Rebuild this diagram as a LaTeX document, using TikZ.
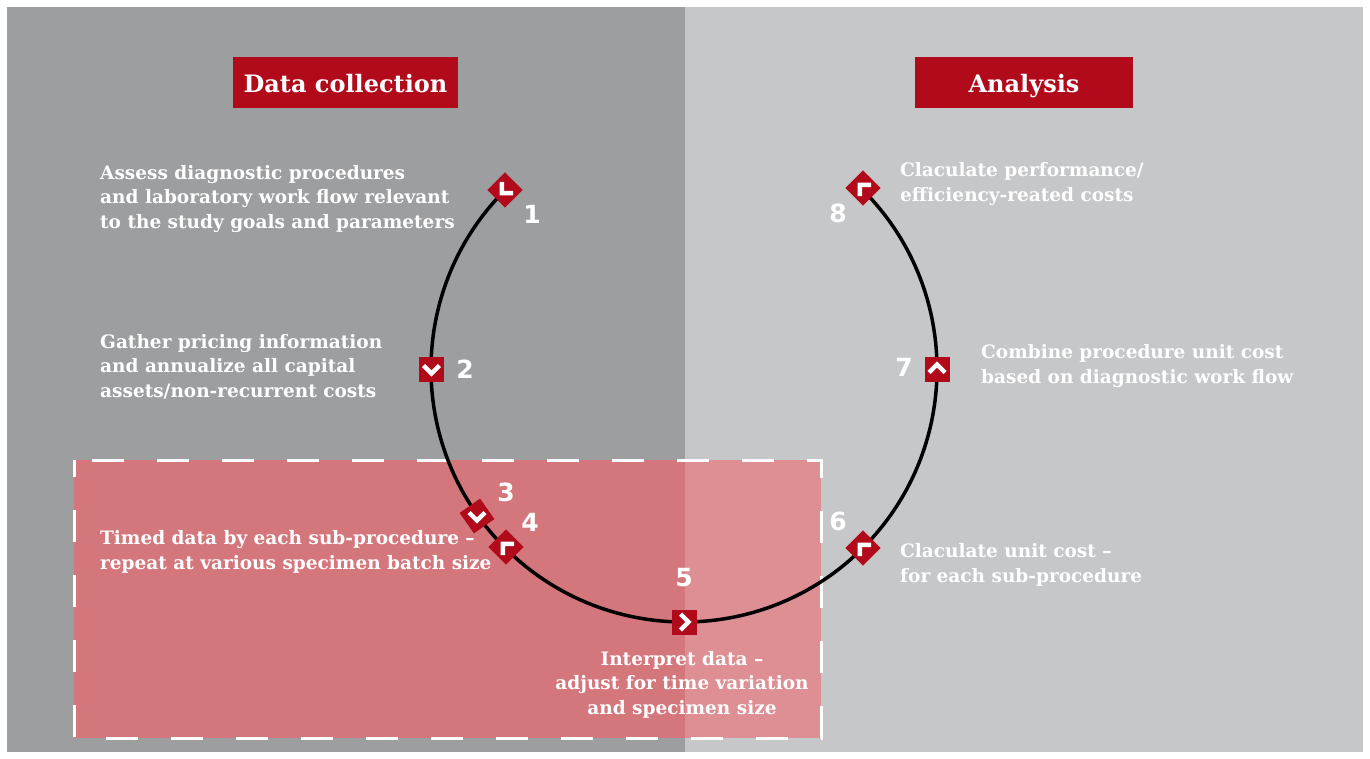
\documentclass[tikz,border=0pt]{standalone}
\usepackage{fontspec}
\setmainfont{DejaVu Serif}
\newfontfamily\numfont{DejaVu Sans}
\definecolor{darkbg}{HTML}{9D9EA0}
\definecolor{lightbg}{HTML}{C6C7C9}
\definecolor{brandred}{HTML}{B10A1B}
\definecolor{pinkL}{HTML}{D4777D}
\definecolor{pinkR}{HTML}{DD8F94}
\tikzset{
  marker/.style={fill=brandred, minimum size=25, inner sep=0, shape=rectangle},
  chev/.style={draw=white, line width=4.5, miter limit=10},
  body/.style={text=white, inner sep=0, font=\fontsize{18.5}{24.5}\selectfont\bfseries},
  num/.style={text=white, inner sep=0, font=\numfont\fontsize{25}{25}\selectfont\bfseries},
  titlebox/.style={fill=brandred, text=white, inner sep=0, text height=20, text depth=0, font=\fontsize{24}{24}\selectfont\bfseries},
  ring/.style={draw=black, line width=3.5}
}
\newcommand\placemarker[4]{%
  \node[marker, rotate=#3] (#1) at (#2) {};
  \draw[chev, shift={(#2)}, rotate=#4] (-3.5,-8) -- (4.5,0) -- (-3.5,8);
}
\begin{document}
\begin{tikzpicture}[x=1pt, y=-1pt]
\useasboundingbox (0,0) rectangle (1370,758);
\fill[white] (0,0) rectangle (1370,758);
\fill[darkbg] (7,7) rectangle (685,752);
\fill[lightbg] (685,7) rectangle (1363,752);
\fill[pinkL] (74,460) rectangle (685,738);
\fill[pinkR] (685,460) rectangle (821,738);
\draw[white, line width=3, dash pattern=on 32 off 33, dash phase=47] (74,460) -- (821,460) -- (821,738) -- (74,738) -- cycle;
% title boxes
\node[titlebox, minimum width=225, minimum height=51] (t1) at (345.5,82.5) {Data collection};
\node[titlebox, minimum width=218, minimum height=51] (t2) at (1024,82.5) {Analysis};
% ring
\coordinate (c) at (684,369);
\draw[ring] (c) ++(-135:253) arc[start angle=-135, end angle=-405, radius=253];
% markers
\placemarker{m1}{505,190}{225}{225}
\placemarker{m2}{431.5,369}{270}{270}
\placemarker{m3}{477,516}{305}{270}
\placemarker{m4}{506,547}{135}{135}
\placemarker{m5}{684,622}{0}{0}
\placemarker{m6}{863,548}{135}{135}
\placemarker{m7}{937,369}{90}{90}
\placemarker{m8}{863,188}{135}{135}
% numbers
\node[num] (n1) at (532,214) {1};
\node[num] (n2) at (465,369) {2};
\node[num] (n3) at (506,492) {3};
\node[num] (n4) at (530,522) {4};
\node[num] (n5) at (684,578) {5};
\node[num] (n6) at (838,521) {6};
\node[num] (n7) at (904,367) {7};
\node[num] (n8) at (838,213) {8};
% texts (base = last line baseline)
\node[body, anchor=base west, align=left] (x1) at (100,228) {Assess diagnostic procedures\\and laboratory work flow relevant\\to the study goals and parameters};
\node[body, anchor=base west, align=left] (x2) at (100,397) {Gather pricing information\\and annualize all capital\\assets/non-recurrent costs};
\node[body, anchor=base west, align=left] (x3) at (100,569) {Timed data by each sub-procedure --\\repeat at various specimen batch size};
\node[body, anchor=base, align=center] (x5) at (682,714) {Interpret data --\\adjust for time variation\\and specimen size};
\node[body, anchor=base west, align=left] (x6) at (900,582) {Claculate unit cost --\\for each sub-procedure};
\node[body, anchor=base west, align=left] (x7) at (981,383) {Combine procedure unit cost\\based on diagnostic work flow};
\node[body, anchor=base west, align=left] (x8) at (900,201) {Claculate performance/\\efficiency-reated costs};
\end{tikzpicture}
\end{document}
